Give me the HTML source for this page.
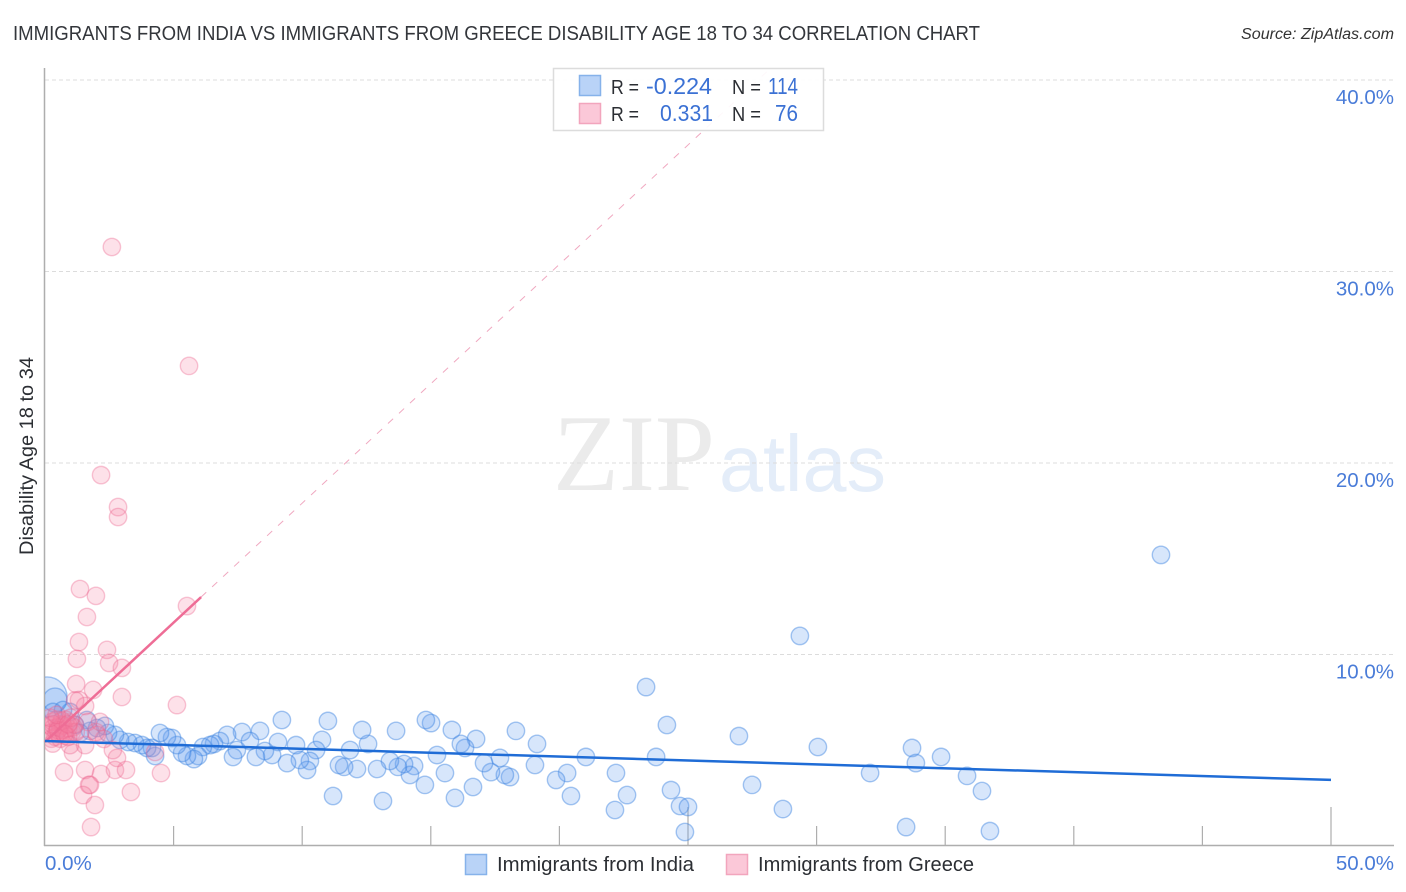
<!DOCTYPE html>
<html lang="en">
<head>
<meta charset="utf-8">
<title>Immigrants from India vs Immigrants from Greece Disability Age 18 to 34 Correlation Chart</title>
<style>
html,body{margin:0;padding:0;background:#fff;width:1406px;height:892px;overflow:hidden}
svg{display:block}
text{font-family:"Liberation Sans",Arial,sans-serif}
</style>
</head>
<body>
<svg id="chart" xmlns="http://www.w3.org/2000/svg" width="1406" height="892" viewBox="0 0 1406 892">
<defs><clipPath id="plot-clip"><rect x="45" y="60" width="1349" height="786"/></clipPath></defs>
<text x="13" y="40" font-size="20" fill="#33363b" textLength="967" lengthAdjust="spacingAndGlyphs">IMMIGRANTS FROM INDIA VS IMMIGRANTS FROM GREECE DISABILITY AGE 18 TO 34 CORRELATION CHART</text>
<text x="1394" y="39" font-size="15.5" font-style="italic" fill="#333" text-anchor="end" textLength="153" lengthAdjust="spacingAndGlyphs">Source: ZipAtlas.com</text>
<g>
<text x="553" y="490" font-size="109" fill="#ebebeb" style="font-family:'Liberation Serif',serif" textLength="162" lengthAdjust="spacingAndGlyphs">ZIP</text>
<text x="719" y="491" font-size="80" fill="#e4edf9" textLength="167" lengthAdjust="spacingAndGlyphs">atlas</text>
</g>
<g id="grid"></g>
<g id="axes"></g>
<g id="india-points" clip-path="url(#plot-clip)"></g>
<g id="greece-points" clip-path="url(#plot-clip)"></g>
<g id="trends"></g>
<g>
<rect x="553.5" y="68.5" width="270" height="62" fill="#fff" fill-opacity="0.92" stroke="#dcdcdc" stroke-width="1.5"/>
<rect x="579.5" y="75.5" width="21" height="20" fill="#b9d3f7" stroke="#86b2ea" stroke-width="1.5"/>
<rect x="579.5" y="103.5" width="21" height="20" fill="#fbc8d8" stroke="#f2a5bd" stroke-width="1.5"/>
<text x="611" y="94" font-size="20" fill="#2b2e33" textLength="28" lengthAdjust="spacingAndGlyphs">R =</text>
<text x="646" y="94" font-size="23" fill="#3b71d4" textLength="66" lengthAdjust="spacingAndGlyphs">-0.224</text>
<text x="732" y="94" font-size="20" fill="#2b2e33" textLength="29" lengthAdjust="spacingAndGlyphs">N =</text>
<text x="768" y="94" font-size="23" fill="#3b71d4" textLength="30" lengthAdjust="spacingAndGlyphs">114</text>
<text x="611" y="121" font-size="20" fill="#2b2e33" textLength="28" lengthAdjust="spacingAndGlyphs">R =</text>
<text x="660" y="121" font-size="23" fill="#3b71d4" textLength="53" lengthAdjust="spacingAndGlyphs">0.331</text>
<text x="732" y="121" font-size="20" fill="#2b2e33" textLength="29" lengthAdjust="spacingAndGlyphs">N =</text>
<text x="775" y="121" font-size="23" fill="#3b71d4" textLength="23" lengthAdjust="spacingAndGlyphs">76</text>
</g>
<g>
<rect x="465.5" y="854.5" width="21" height="20" fill="#b9d3f7" stroke="#86b2ea" stroke-width="1.5"/>
<text x="497" y="871" font-size="20" fill="#2b2e33" textLength="197" lengthAdjust="spacingAndGlyphs">Immigrants from India</text>
<rect x="726.5" y="854.5" width="21" height="20" fill="#fbc8d8" stroke="#f2a5bd" stroke-width="1.5"/>
<text x="758" y="871" font-size="20" fill="#2b2e33" textLength="216" lengthAdjust="spacingAndGlyphs">Immigrants from Greece</text>
</g>
<text transform="translate(33,456) rotate(-90)" font-size="19" fill="#2b2e33" text-anchor="middle" textLength="198" lengthAdjust="spacingAndGlyphs">Disability Age 18 to 34</text>
</svg>
<script>
const yTicks = [10, 20, 30, 40];
const yTickLabels = ["10.0%", "20.0%", "30.0%", "40.0%"];
const xTicks = [5, 10, 15, 20, 25, 30, 35, 40, 45, 50];
const xMajorTicks = [25, 50];
const xEndValues = [0, 50];
const xEndLabels = ["0.0%", "50.0%"];

const indiaX = [0.08,0.39,43.39,29.35,23.37,24.18,26.98,30.05,33.71,34.84,33.86,32.08,35.85,36.43,33.48,36.74,28.69,27.49,23.76,24.34,24.69,25.0,24.88,22.63,22.16,22.20,21.03,20.45,20.30,19.87,19.13,19.05,18.31,18.08,17.88,17.34,17.69,17.07,16.64,16.76,16.33,16.17,15.82,15.55,15.24,15.94,14.77,15.01,14.81,14.35,14.19,13.96,13.72,13.41,13.65,12.91,12.56,12.33,11.86,12.13,11.63,11.43,11.20,13.14,11.0,10.77,10.54,10.30,10.19,9.91,9.76,9.41,9.21,9.06,8.83,8.55,8.36,8.20,7.66,7.97,7.46,7.31,7.08,6.80,6.57,6.42,6.14,5.95,5.79,5.52,5.33,5.13,4.94,4.74,4.47,4.28,4.16,3.97,3.77,3.50,3.23,2.92,2.72,2.45,2.33,2.02,1.75,1.63,0.97,0.70,0.31,1.17,1.36,0.58];
const indiaY = [7.78,7.62,15.20,10.97,8.30,6.32,5.74,5.17,5.12,4.65,4.33,3.81,3.66,2.87,0.99,0.78,1.93,3.19,4.65,2.92,2.09,2.04,0.73,2.66,1.88,3.81,4.65,2.61,3.81,3.45,5.33,4.23,6.01,3.60,3.71,3.86,4.60,4.33,3.08,5.59,5.12,5.33,6.06,3.81,4.75,2.51,3.19,6.42,6.58,4.18,3.71,4.28,4.13,4.44,6.01,4.02,5.33,6.06,5.01,4.02,4.13,4.23,2.61,2.35,6.53,5.54,5.01,4.44,3.97,4.49,5.27,4.33,6.58,5.43,4.75,4.96,6.01,4.65,5.95,5.48,5.01,4.65,5.80,5.48,5.33,5.27,5.17,4.70,4.54,4.70,4.86,5.27,5.64,5.69,5.90,4.70,5.12,5.12,5.27,5.38,5.43,5.54,5.80,5.90,6.27,6.16,6.01,6.58,7.00,7.10,7.00,6.32,5.90,6.16];
const indiaWeight = [5.3,1.9];

const greeceX = [2.60,5.60,2.18,2.84,2.84,1.36,1.98,5.52,1.63,1.32,2.41,1.24,2.49,2.99,1.21,1.87,2.99,5.13,1.32,1.56,1.09,1.56,0.74,1.56,2.18,2.72,3.15,4.51,1.71,1.75,1.48,3.34,1.94,1.79,2.80,2.64,4.28,2.29,1.98,1.67,0.25,0.4,0.55,0.3,0.2,0.3,0.45,0.6,0.75,0.9,0.95,0.8,0.5,0.7,0.45,0.2,0.8,1.05,1.1,0.65,0.3,0.5,0.6,0.9,1.15,1.2,1.0,0.3,0.2,0.45,0.75,0.9,2.02,2.14,0.97,1.17];
const greeceY = [31.28,25.07,19.37,17.70,17.18,13.42,13.06,12.53,11.96,10.65,10.24,9.77,9.56,9.30,8.46,8.15,7.78,7.36,7.62,7.31,4.86,5.27,3.86,3.97,3.76,3.97,3.97,3.81,3.19,3.19,2.66,2.82,2.14,0.99,4.60,5.01,4.91,5.59,5.95,6.48,5.6,5.7,5.85,6.15,6.3,6.5,6.6,6.35,6.05,6.15,6.45,6.6,6.2,6.3,5.95,5.9,5.75,5.95,6.2,6.55,6.35,6.05,5.6,5.7,6.35,5.95,6.7,5.35,6.7,6.85,5.85,6.35,5.8,6.48,5.27,7.6];

const indiaTrendX = [0, 50];
const indiaTrendY = [5.48, 3.45];
const greeceSolidX = [0, 6.07];
const greeceSolidY = [5.43, 13.0];
const greeceDashX = [6.07, 28.2];
const greeceDashY = [13.0, 40.6];

const NS = 'http://www.w3.org/2000/svg';
function xScale(v) { return 45 + v * 25.72; }
function yScale(v) { return 846 - v * 19.15; }
function radius(w) { return 8.7 * Math.sqrt(w); }
function make(tag, attrs, parent) {
  const el = document.createElementNS(NS, tag);
  for (const k in attrs) el.setAttribute(k, attrs[k]);
  parent.appendChild(el);
  return el;
}

const grid = document.getElementById('grid');
const axes = document.getElementById('axes');
const indiaGroup = document.getElementById('india-points');
const greeceGroup = document.getElementById('greece-points');
const trends = document.getElementById('trends');

yTicks.forEach(function (t, i) {
  const line = make('line', {x1: 45, x2: 1394, y1: yScale(t), y2: yScale(t), stroke: '#dcdcdc', 'stroke-width': 1, 'stroke-dasharray': '4 3'}, grid);
  
  
  const label = make('text', {x: 1394, y: yScale(t) + 24, 'font-size': 20.5, fill: '#4a7cd8', 'text-anchor': 'end'}, axes);
  label.textContent = yTickLabels[i];
  
  
});

const yAxisLine = make('line', {x1: 44.5, x2: 44.5, y1: 68, y2: 846, stroke: '#aeaeae', 'stroke-width': 1.5}, axes);


const xAxisLine = make('line', {x1: 44, x2: 1394, y1: 845.5, y2: 845.5, stroke: '#aeaeae', 'stroke-width': 1.5}, axes);



xTicks.forEach(function (t) {
  const tall = xMajorTicks.indexOf(t) >= 0;
  const tick = make('line', {x1: xScale(t), x2: xScale(t), y1: tall ? 807 : 826, y2: 846, stroke: '#aeaeae', 'stroke-width': 1.2}, axes);
  
  
});

xEndValues.forEach(function (t, i) {
  const label = make('text', {x: i === 0 ? xScale(t) : 1394, y: 870, 'font-size': 20.5, fill: '#4a7cd8', 'text-anchor': i === 0 ? 'start' : 'end'}, axes);
  label.textContent = xEndLabels[i];
  
  
});

indiaX.forEach(function (v, i) {
  const c = make('circle', {cx: xScale(v), cy: yScale(indiaY[i]), r: radius(indiaWeight[i] || 1), fill: 'rgba(100,160,240,0.26)', stroke: 'rgba(60,130,225,0.45)', 'stroke-width': 1.4}, indiaGroup);
  
  
});

greeceX.forEach(function (v, i) {
  const c = make('circle', {cx: xScale(v), cy: yScale(greeceY[i]), r: 8.7, fill: 'rgba(245,130,165,0.24)', stroke: 'rgba(235,100,140,0.36)', 'stroke-width': 1.4}, greeceGroup);
  
  
});

const greeceDash = make('line', {x1: xScale(greeceDashX[0]), y1: yScale(greeceDashY[0]), x2: xScale(greeceDashX[1]), y2: yScale(greeceDashY[1]), stroke: '#f0a8c0', 'stroke-width': 1, 'stroke-dasharray': '7 8'}, trends);


const greeceSolid = make('line', {x1: xScale(greeceSolidX[0]), y1: yScale(greeceSolidY[0]), x2: xScale(greeceSolidX[1]), y2: yScale(greeceSolidY[1]), stroke: '#ee6d96', 'stroke-width': 2.5}, trends);


const indiaTrend = make('line', {x1: xScale(indiaTrendX[0]), y1: yScale(indiaTrendY[0]), x2: xScale(indiaTrendX[1]), y2: yScale(indiaTrendY[1]), stroke: '#1f6cd6', 'stroke-width': 2.5}, trends);


</script>
</body>
</html>
